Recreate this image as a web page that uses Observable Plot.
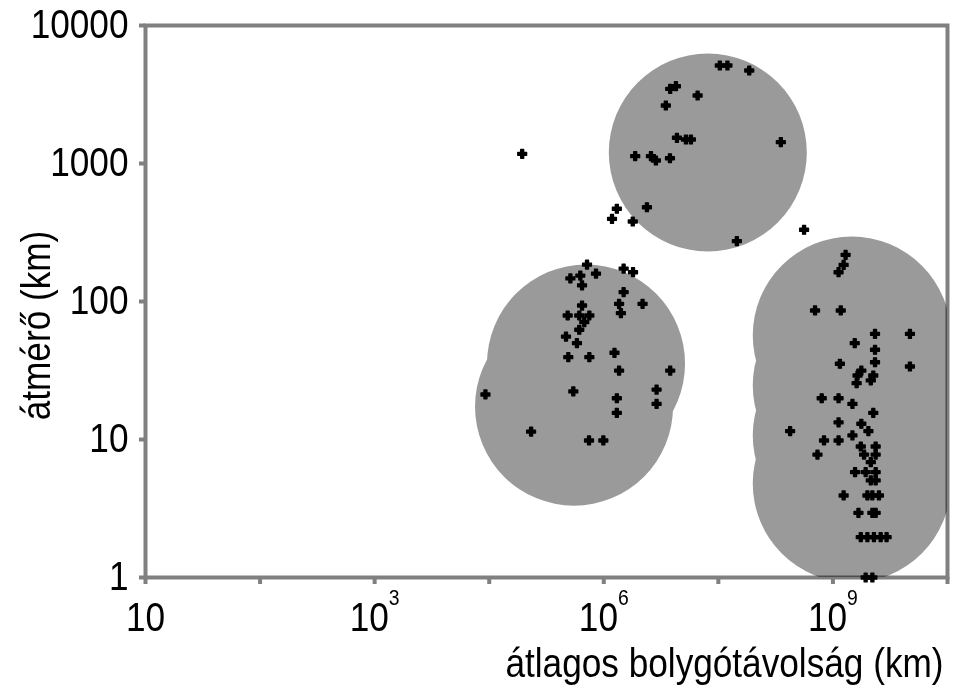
<!DOCTYPE html>
<html>
<head>
<meta charset="utf-8">
<script src="https://cdn.jsdelivr.net/npm/d3@7"></script>
<script src="https://cdn.jsdelivr.net/npm/@observablehq/plot@0.6"></script>
<style>
  html, body { margin: 0; padding: 0; background: #fff; }
</style>
</head>
<body>
<script>
// Moons: mean distance from planet (km) and diameter (km)
const tavolsag = [
  9.27e3, 2.32e4, 1.94e4, 7.14e4, 5.11e4, 6.24e4, 8.55e4, 1.49e5, 1.80e5, 6.46e4,
  1.49e5, 1.36e5, 2.18e5, 1.41e5, 6.46e4, 4.84e4, 6.11e4, 7.48e4, 6.76e4, 6.11e4,
  4.68e4, 5.83e4, 4.90e4, 7.48e4, 1.24e5, 1.36e5, 3.80e5, 5.42e4, 2.89e5, 1.30e5,
  2.89e5, 1.30e5, 7.43e4, 9.91e4,
  1.03e6, 1.20e6, 1.86e6, 3.80e5, 4.26e5, 6.59e5, 3.48e5, 4.35e5, 5.21e5, 5.76e5,
  3.51e6, 1.88e5, 2.58e5, 2.85e5, 3.78e5, 2.38e5, 1.30e5, 1.18e5, 1.79e5, 1.45e6,
  5.60e6,
  1.29e7, 1.24e7, 1.12e7, 6.98e6, 1.17e7, 2.33e7, 4.70e7, 1.55e7, 2.33e7, 2.33e7,
  1.15e7, 4.70e7, 1.77e7, 1.64e7, 2.25e7, 1.61e7, 2.14e7, 7.98e6, 1.12e7, 1.48e7,
  2.25e7, 4.23e6, 1.12e7, 1.77e7, 2.04e7, 8.36e6, 1.12e7, 1.48e7, 7.33e6, 1.75e7,
  2.36e7, 1.87e7, 2.36e7, 2.14e7, 1.56e7, 1.93e7, 2.36e7, 2.14e7, 2.36e7, 1.24e7,
  2.00e7, 2.21e7, 2.52e7, 1.67e7, 2.21e7, 2.36e7, 1.75e7, 2.00e7, 2.28e7, 2.61e7,
  2.94e7, 1.93e7, 2.21e7
];
const atmero = [
  21.2, 11.4, 1175, 185, 147, 154, 159, 173, 163, 131,
  117, 96.2, 96.2, 82.3, 93.5, 79.2, 79.2, 79.2, 70.8, 62.4,
  55.7, 49.9, 39.5, 39.5, 42.5, 31.6, 31.6, 22.3, 23.0, 19.9,
  18.1, 15.6, 9.84, 9.84,
  5129, 5129, 4721, 3477, 3631, 3110, 2633, 1536, 1493, 1493,
  1427, 1130, 1130, 1051, 1092, 482, 470, 397, 380, 274,
  331,
  218, 184, 163, 86.1, 86.1, 58.3, 58.3, 49.9, 44.7, 36.3,
  35.4, 33.8, 31.6, 29.1, 29.1, 25.6, 26.8, 19.9, 19.9, 18.1,
  15.6, 11.5, 13.3, 13.0, 11.5, 9.84, 9.84, 10.7, 7.78, 8.90,
  8.90, 7.78, 7.78, 6.85, 5.80, 5.80, 5.80, 5.05, 5.05, 3.93,
  3.93, 3.93, 3.93, 2.94, 2.94, 2.94, 1.96, 1.96, 1.96, 1.96,
  1.96, 1, 1
];

// Grey group areas: centres of the shaded discs
const csoportTavolsag = [8.09e5, 7.00e4, 5.50e4, 1.46e7, 1.46e7, 1.46e7, 1.46e7];
const csoportAtmero   = [1202, 35.5, 17.3, 56.7, 24.6, 10.7, 4.80];

// Axes
const xTickValues = [1e1, 1e2, 1e3, 1e4, 1e5, 1e6, 1e7, 1e8];
const xLabelValues = [1e1, 1e3, 1e5, 1e7];
const xLabelTexts = ["10", "10³", "10⁶", "10⁹"];
const yTickValues = [1, 10, 100, 1000, 10000];
const yTickTexts = ["1", "10", "100", "1000", "10000"];
const xTitle = "átlagos bolygótávolság (km)";
const yTitle = "átmérő (km)";

const moons = tavolsag.map((d, i) => ({x: d, y: atmero[i]}));
const groups = csoportTavolsag.map((d, i) => ({x: d, y: csoportAtmero[i]}));
const xLabelMap = new Map(xLabelValues.map((v, i) => [v, xLabelTexts[i]]));
const yLabelMap = new Map(yTickValues.map((v, i) => [v, yTickTexts[i]]));

const FONT = "'Liberation Sans', Arial, sans-serif";
const GRID = "#808080";
const NARROW = 0.88; // condensed look of the original lettering

const svg = Plot.plot({
  width: 963,
  height: 693,
  marginLeft: 145,
  marginRight: 16,
  marginTop: 25,
  marginBottom: 116,
  style: {fontFamily: FONT, fontSize: "40px", color: "#000", background: "#fff"},
  x: {type: "log", domain: [1e1, 1e8]},
  y: {type: "log", domain: [1, 1e4]},
  marks: [
    Plot.dot(groups, {x: "x", y: "y", r: 99, fill: "#9a9a9a", clip: true}),
    Plot.dot(moons, {x: "x", y: "y", symbol: "cross", r: 3.7, fill: "#000", stroke: "#000", strokeWidth: 1.4, strokeLinejoin: "round"}),
    Plot.frame({stroke: GRID, strokeWidth: 4, mixBlendMode: "multiply"}),
    Plot.axisY({
      ticks: yTickValues, tickSize: 6, tickPadding: 11, stroke: GRID, strokeWidth: 4,
      tickFormat: d => yLabelMap.get(d) ?? "", fontSize: 40, label: null
    }),
    Plot.axisX({
      ticks: xTickValues, tickSize: 7, tickPadding: 18, stroke: GRID, strokeWidth: 4,
      tickFormat: d => xLabelMap.get(d) ?? "", fontSize: 40, label: null
    }),
    Plot.text([xTitle], {text: d => d, frameAnchor: "bottom-right", textAnchor: "end", lineAnchor: "top", dx: -4, dy: 71, fontSize: 40}),
    Plot.text([yTitle], {text: d => d, frameAnchor: "left", rotate: -90, textAnchor: "middle", lineAnchor: "middle", dx: -108, dy: 24, fontSize: 40})
  ]
});

// superscripted exponents on the x tick labels
const sup = {"³": "3", "⁶": "6", "⁹": "9"};
d3.select(svg).selectAll('g[aria-label="x-axis tick label"] text').each(function () {
  const t = this.textContent;
  const m = /^10(.)$/.exec(t);
  if (m && sup[m[1]]) {
    this.textContent = "10";
    d3.select(this).append("tspan").attr("dy", -26).attr("font-size", 22).text(sup[m[1]]);
  }
});

// condense all lettering horizontally about its anchor
d3.select(svg).selectAll("text").each(function () {
  const sel = d3.select(this);
  let tr = sel.attr("transform");
  if (!tr) {
    const x = +sel.attr("x") || 0, y = +sel.attr("y") || 0;
    tr = `translate(${x},${y})`;
    sel.attr("x", null).attr("y", null);
  }
  sel.attr("transform", `${tr} scale(${NARROW},1)`);
});

document.body.appendChild(svg);
</script>
</body>
</html>
